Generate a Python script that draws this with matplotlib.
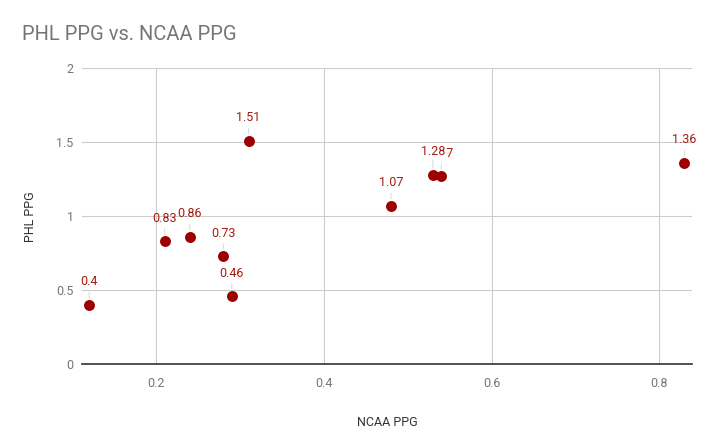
import matplotlib
matplotlib.use("Agg")
import matplotlib.pyplot as plt

ncaa_ppg = [0.12, 0.21, 0.24, 0.28, 0.29, 0.31, 0.48, 0.53, 0.54, 0.83]
phl_ppg = [0.40, 0.83, 0.86, 0.73, 0.46, 1.51, 1.07, 1.28, 1.27, 1.36]
point_labels = ["0.4", "0.83", "0.86", "0.73", "0.46", "1.51", "1.07", "1.28", "1.27", "1.36"]
x_ticks = [0.2, 0.4, 0.6, 0.8]
y_ticks = [0, 0.5, 1, 1.5, 2]

plt.rcParams['font.family'] = ['Roboto', 'DejaVu Sans']

fig = plt.figure(figsize=(7.14, 4.41), dpi=100)
ax = fig.add_axes([82/714, 1 - 364.3/441, (691.7-82)/714, (364.3-68.3)/441])

pt_color = '#9c0000'
lab_color = '#a61b10'

ax.scatter(ncaa_ppg, phl_ppg, s=62, color=pt_color, zorder=5, linewidths=0)

# draw labels; 1.27 first so 1.28 covers it
order = sorted(range(len(ncaa_ppg)), key=lambda i: 0 if point_labels[i] == "1.27" else 1)
for i in order:
    kw = {}
    if point_labels[i] == "1.28":
        kw['bbox'] = dict(facecolor='white', edgecolor='none', pad=0.3)
    ax.annotate(point_labels[i], (ncaa_ppg[i], phl_ppg[i]), xytext=(0, 12),
                textcoords='offset points', ha='center', va='bottom',
                fontsize=9, color=lab_color, zorder=6 if point_labels[i] == "1.28" else 4,
                arrowprops=dict(arrowstyle='-', color='#dddddd', lw=0.8,
                                shrinkA=1, shrinkB=5),
                **kw)

ax.set_xlim(0.1114, 0.8386)
ax.set_ylim(0, 2)
ax.set_xticks(x_ticks)
ax.set_xticklabels([str(t) for t in x_ticks])
ax.set_yticks(y_ticks)
ax.set_yticklabels(["0", "0.5", "1", "1.5", "2"])
ax.grid(True, color='#cccccc', lw=0.8, zorder=0)
ax.set_axisbelow(True)
for s in ['top', 'right', 'left']:
    ax.spines[s].set_visible(False)
ax.spines['bottom'].set_color('#333333')
ax.spines['bottom'].set_linewidth(1.2)
ax.spines['bottom'].set_zorder(3)
ax.tick_params(axis='both', length=0, labelsize=9, labelcolor='#757575')
ax.tick_params(axis='x', pad=9)
ax.tick_params(axis='y', pad=6)

ax.set_xlabel("NCAA PPG", fontsize=9, color='#333333', labelpad=19)
fig.text(30/714, 1 - 216.3/441, "PHL PPG", fontsize=9, color='#333333',
         rotation=90, ha='center', va='center')

fig.text(22/714, 1 - 34/441, "PHL PPG vs. NCAA PPG", fontsize=14.5, color='#757575',
         ha='left', va='center')

fig.savefig("out.png", dpi=100, facecolor='white')
